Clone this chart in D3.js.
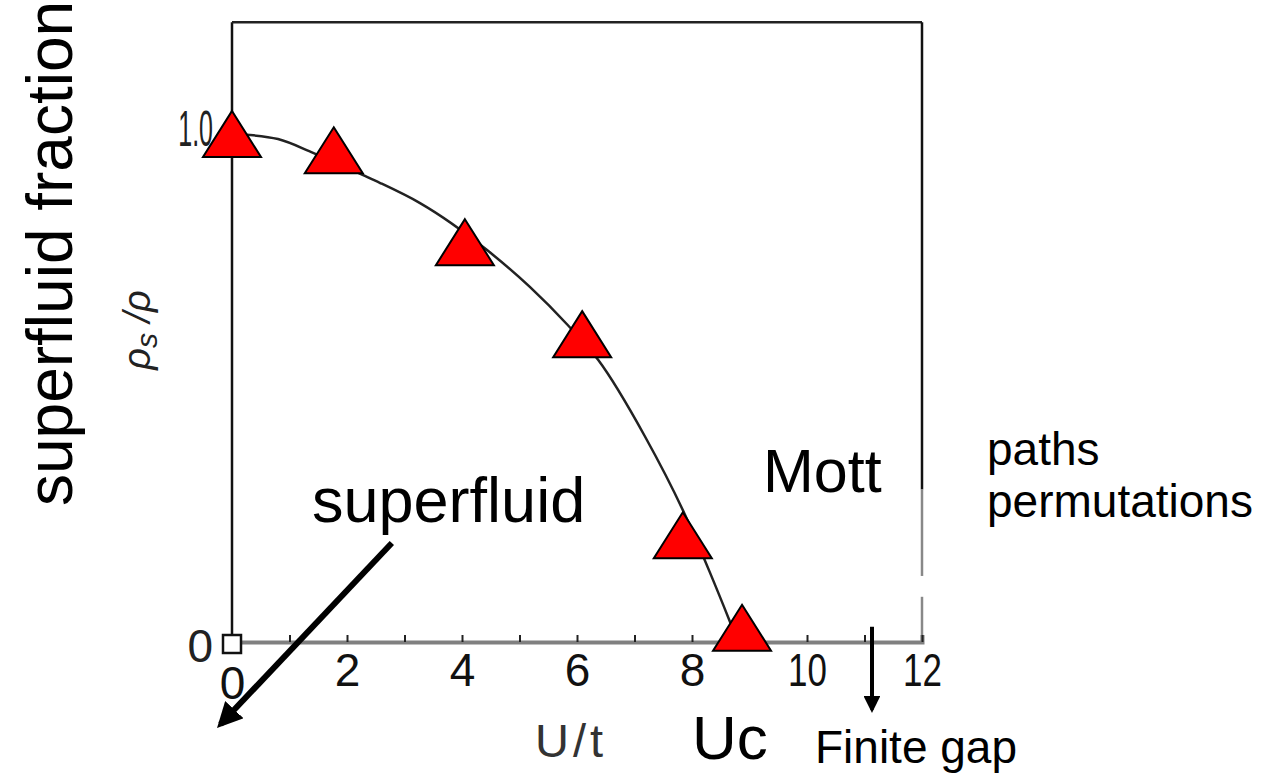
<!DOCTYPE html>
<html>
<head>
<meta charset="utf-8">
<script src="https://cdn.jsdelivr.net/npm/d3@7"></script>
<style>
  body { margin: 0; background: #fff; }
  svg { display: block; font-family: "Liberation Sans", Arial, sans-serif; }
</style>
</head>
<body>
<div id="chart"></div>
<script>
var WIDTH = 1268, HEIGHT = 773;

// triangles (QMC points)
var uValues = [0, 1.77, 4.05, 6.09, 7.84, 8.87];
var rhoValues = [1.0, 0.968, 0.787, 0.606, 0.21, 0.028];

// the hand drawn curve of the scanned figure
var curveU = [0, 0.31, 0.8, 1.41, 2.28, 2.57, 3.27, 4.43, 5.18, 5.83, 6.37, 7.18, 7.88, 8.3, 8.66, 8.8];
var curveRho = [1.0, 0.998, 0.99, 0.963, 0.919, 0.904, 0.864, 0.772, 0.699, 0.625, 0.555, 0.405, 0.25, 0.14, 0.04, 0];

// open square of the original plot
var squareU = [0];
var squareRho = [0];

var xTicks = d3.range(0, 13);
var xTickLabels = ["0", "", "2", "", "4", "", "6", "", "8", "", "10", "", "12"];
var yTicks = [0, 1];
var yTickLabels = ["0", "1.0"];
var frameTop = 1.22;

var xScale = d3.scaleLinear().domain([0, 12]).range([232, 922]);
var yScale = d3.scaleLinear().domain([0, 1]).range([642, 134]);

var svg = d3.select("#chart").append("svg")
    .attr("width", WIDTH)
    .attr("height", HEIGHT);

var defs = svg.append("defs");
defs.append("marker")
    .attr("id", "head")
    .attr("viewBox", "0 0 10 10")
    .attr("refX", 8).attr("refY", 5)
    .attr("markerWidth", 4.2).attr("markerHeight", 4.2)
    .attr("markerUnits", "strokeWidth")
    .attr("orient", "auto")
  .append("path")
    .attr("d", "M0,0L10,5L0,10Z")
    .attr("fill", "#000");

// frame (scanned: right edge fades to grey and has a small break)
var x0 = xScale(0), x1 = xScale(12), y0 = yScale(0), y1 = yScale(frameTop);
svg.append("line").attr("x1", x0).attr("x2", x0).attr("y1", y1).attr("y2", y0)
    .attr("stroke", "#111").attr("stroke-width", 2.5);
svg.append("line").attr("x1", x0).attr("x2", x1).attr("y1", y1).attr("y2", y1)
    .attr("stroke", "#222").attr("stroke-width", 2.5);
svg.append("line").attr("x1", x1).attr("x2", x1).attr("y1", y1).attr("y2", yScale(0.3))
    .attr("stroke", "#111").attr("stroke-width", 2.5);
svg.append("line").attr("x1", x1).attr("x2", x1).attr("y1", yScale(0.3)).attr("y2", yScale(0.13))
    .attr("stroke", "#888").attr("stroke-width", 2.5);
svg.append("line").attr("x1", x1).attr("x2", x1).attr("y1", yScale(0.089)).attr("y2", y0)
    .attr("stroke", "#888").attr("stroke-width", 2.5);

var xAxis = svg.append("g")
    .attr("transform", "translate(0," + y0 + ")")
    .call(d3.axisBottom(xScale).tickValues(xTicks)
      .tickSize(-7).tickPadding(12)
      .tickFormat(function(d, i) { return xTickLabels[i]; }));
xAxis.select(".domain").attr("stroke", "#808080").attr("stroke-width", 4);
xAxis.selectAll(".tick line").attr("stroke", "#222").attr("stroke-width", 2);
xAxis.selectAll(".tick text")
    .attr("fill", "#111")
    .style("font-size", "46px")
    .style("font-family", "Liberation Sans, Arial, sans-serif")
    .attr("dy", function(d, i) { return i == 0 ? "0.98em" : "0.69em"; })
    .attr("transform", function(d, i) {
      // the scanned "10" and "12" are narrow
      return xTickLabels[i].length > 1 ? "scale(0.76,1)" : null;
    });

var ySquash = 0.5;
var yAxis = svg.append("g")
    .attr("transform", "translate(" + x0 + ",0)")
    .call(d3.axisLeft(yScale).tickValues(yTicks).tickSize(0).tickPadding(19)
      .tickFormat(function(d, i) { return yTickLabels[i]; }));
yAxis.select(".domain").remove();
yAxis.selectAll(".tick text")
    .attr("fill", "#222")
    .style("font-size", "46px")
    .style("font-family", "Liberation Sans, Arial, sans-serif")
    .attr("dy", function(d) { return d == 1 ? "0.22em" : "0.42em"; })
    .each(function(d, i) {
      if (yTickLabels[i].length > 1) {
        d3.select(this)
          .style("font-size", "50px")
          .attr("x", -19 / ySquash)
          .attr("transform", "scale(" + ySquash + ",1)");
      }
    });

// curve
var curveData = curveU.map(function(u, i) { return [u, curveRho[i]]; });
var line = d3.line()
    .x(function(d) { return xScale(d[0]); })
    .y(function(d) { return yScale(d[1]); })
    .curve(d3.curveMonotoneX);

svg.append("path")
    .attr("d", line(curveData))
    .attr("fill", "none")
    .attr("stroke", "#222")
    .attr("stroke-width", 2.5);

// open square
svg.selectAll(".sq")
    .data(squareU)
  .enter().append("rect")
    .attr("class", "sq")
    .attr("x", function(d) { return xScale(d) - 9; })
    .attr("y", function(d, i) { return yScale(squareRho[i]) - 7; })
    .attr("width", 18).attr("height", 18)
    .attr("fill", "#fff")
    .attr("stroke", "#111")
    .attr("stroke-width", 2.5);

// triangles
var triW = 58, triH = 46;
svg.selectAll(".tri")
    .data(uValues)
  .enter().append("path")
    .attr("class", "tri")
    .attr("transform", function(d, i) {
      return "translate(" + xScale(d) + "," + yScale(rhoValues[i]) + ")";
    })
    .attr("d", "M0," + (-triH / 2) + "L" + (triW / 2) + "," + (triH / 2) + "L" + (-triW / 2) + "," + (triH / 2) + "Z")
    .attr("fill", "#ff0000")
    .attr("stroke", "#000")
    .attr("stroke-width", 2)
    .attr("stroke-linejoin", "miter");

// axis titles
svg.append("text")
    .attr("transform", "translate(72,506) rotate(-90)")
    .style("font-size", "64px")
    .attr("fill", "#000")
    .text("superfluid fraction");

var rhoLabel = svg.append("text")
    .attr("transform", "translate(150,330) rotate(-90)")
    .attr("text-anchor", "middle")
    .style("font-size", "38px")
    .style("font-style", "italic")
    .attr("fill", "#222");
rhoLabel.append("tspan").text("ρ");
rhoLabel.append("tspan").attr("dy", 7).style("font-size", "30px").text("s");
rhoLabel.append("tspan").attr("dy", -7).text(" /ρ");

svg.append("text")
    .attr("x", 571).attr("y", 757)
    .attr("text-anchor", "middle")
    .style("font-size", "47px")
    .style("letter-spacing", "4px")
    .attr("fill", "#333")
    .text("U/t");

// annotations
svg.append("text").attr("x", 312).attr("y", 522)
    .style("font-size", "63px").attr("fill", "#000").text("superfluid");
svg.append("text").attr("x", 763).attr("y", 492)
    .style("font-size", "61px").attr("fill", "#000").text("Mott");
svg.append("text").attr("x", 987).attr("y", 465)
    .style("font-size", "46px").attr("fill", "#000").text("paths");
svg.append("text").attr("x", 987).attr("y", 517)
    .style("font-size", "46px").attr("fill", "#000").text("permutations");
svg.append("text").attr("x", 692).attr("y", 759)
    .style("font-size", "62px").attr("fill", "#000").text("Uc");
svg.append("text").attr("x", 815).attr("y", 763)
    .style("font-size", "46px").attr("fill", "#000").text("Finite gap");

// arrows
svg.append("line")
    .attr("x1", xScale(2.78)).attr("y1", yScale(0.195))
    .attr("x2", xScale(-0.2)).attr("y2", yScale(-0.162))
    .attr("stroke", "#000").attr("stroke-width", 6)
    .attr("marker-end", "url(#head)");

svg.append("line")
    .attr("x1", xScale(11.13)).attr("y1", yScale(0.03))
    .attr("x2", xScale(11.13)).attr("y2", yScale(-0.133))
    .attr("stroke", "#000").attr("stroke-width", 4)
    .attr("marker-end", "url(#head)");
</script>
</body>
</html>
